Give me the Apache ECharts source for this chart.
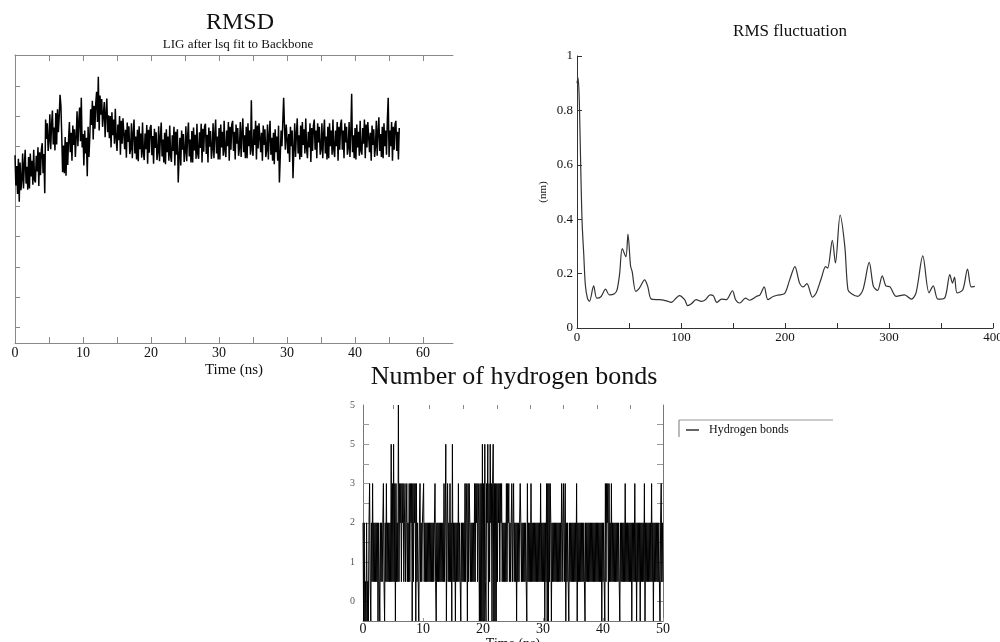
<!DOCTYPE html>
<html>
<head>
<meta charset="utf-8">
<script src="https://cdn.jsdelivr.net/npm/echarts@6/dist/echarts.min.js"></script>
<style>
  html, body { margin: 0; padding: 0; background: #fff; }
  #main { width: 1000px; height: 642px; }
</style>
</head>
<body>
<div id="main"></div>
<script>
var chartDom = document.getElementById('main');
var myChart = echarts.init(chartDom);
var option;

// RMSD of the ligand (nm), one value every 0.125 ns, 8 per row = 1 ns
const rmsdStep = 0.125;
const rmsdValues = [
  .335, .285, .317, .271, .329, .258, .323, .277,
  .295, .338, .280, .320, .344, .288, .316, .278,
  .332, .280, .338, .300, .326, .286, .344, .294,
  .290, .334, .308, .348, .284, .340, .302, .344,
  .355, .305, .337, .272, .394, .362, .388, .342,
  .360, .403, .345, .385, .409, .353, .381, .343,
  .405, .353, .411, .373, .399, .435, .417, .367,
  .307, .351, .305, .365, .301, .357, .319, .361,
  .390, .340, .372, .326, .384, .352, .378, .332,
  .365, .408, .350, .390, .414, .358, .430, .348,
  .370, .318, .376, .338, .364, .300, .382, .332,
  .367, .411, .385, .425, .361, .417, .379, .421,
  .440, .390, .465, .376, .434, .402, .428, .382,
  .380, .423, .365, .405, .429, .373, .401, .363,
  .400, .348, .406, .368, .394, .354, .412, .362,
  .342, .386, .360, .400, .336, .392, .354, .396,
  .395, .345, .377, .331, .389, .357, .383, .337,
  .345, .388, .330, .370, .394, .338, .366, .328,
  .377, .325, .383, .345, .371, .331, .389, .339,
  .327, .371, .345, .385, .321, .377, .339, .381,
  .385, .335, .367, .321, .379, .347, .373, .327,
  .340, .383, .325, .365, .389, .333, .361, .323,
  .372, .320, .378, .340, .366, .326, .384, .334,
  .324, .368, .342, .382, .318, .374, .336, .378,
  .290, .332, .364, .318, .376, .344, .370, .324,
  .340, .383, .325, .365, .389, .333, .361, .323,
  .375, .323, .381, .343, .369, .329, .387, .337,
  .329, .373, .347, .387, .323, .379, .341, .383,
  .387, .337, .369, .323, .381, .349, .375, .329,
  .345, .388, .330, .370, .394, .338, .366, .328,
  .380, .328, .386, .348, .374, .334, .392, .342,
  .332, .376, .350, .390, .326, .382, .344, .386,
  .392, .342, .374, .328, .386, .354, .380, .334,
  .347, .390, .332, .372, .396, .340, .368, .330,
  .382, .330, .388, .350, .376, .336, .426, .344,
  .334, .378, .352, .392, .328, .384, .346, .388,
  .390, .340, .372, .326, .384, .352, .378, .332,
  .343, .386, .328, .368, .392, .336, .364, .326,
  .372, .320, .378, .340, .366, .326, .384, .290,
  .332, .376, .350, .390, .430, .382, .344, .386,
  .388, .338, .370, .324, .382, .350, .376, .297,
  .345, .388, .332, .370, .396, .338, .368, .328,
  .384, .332, .390, .352, .378, .338, .396, .346,
  .330, .374, .348, .388, .324, .380, .342, .384,
  .394, .344, .376, .330, .388, .356, .382, .336,
  .345, .388, .330, .370, .394, .338, .366, .328,
  .382, .330, .388, .350, .376, .336, .394, .344,
  .332, .376, .350, .390, .326, .382, .344, .386,
  .394, .344, .376, .330, .388, .356, .382, .336,
  .347, .390, .332, .372, .437, .340, .368, .330,
  .380, .328, .386, .348, .374, .334, .392, .342,
  .336, .380, .354, .394, .330, .386, .348, .390,
  .390, .340, .372, .326, .384, .352, .378, .332,
  .349, .392, .334, .374, .398, .342, .370, .332,
  .382, .330, .388, .350, .376, .336, .394, .430,
  .332, .376, .350, .390, .326, .382, .344, .386,
  .392, .342, .374, .328, .380
];
const rmsdXTicks = [0, 5, 10, 15, 20, 25, 30, 35, 40, 45, 50, 55, 60];
const rmsdXLabelAt = [0, 10, 20, 30, 40, 50, 60];
const rmsdXLabels = ['0', '10', '20', '30', '30', '40', '60'];
const rmsdYTicks = [0.05, 0.10, 0.15, 0.20, 0.25, 0.30, 0.35, 0.40, 0.45];

// RMS fluctuation per residue
const rmsfResidue = [
  0, 1, 2, 3, 4, 5, 6.5, 8, 10, 12,
  16, 19, 23, 27.5, 31, 36, 38.5, 41, 43.5, 47,
  49, 51.5, 53, 56.5, 60, 65, 68, 71.5, 79.5, 86,
  90.5, 98.5, 103.5, 106.5, 110, 114.5, 119.5, 123.5, 128, 131,
  134.5, 139, 143.5, 149.5, 152.5, 156.5, 162, 166, 172.5, 176,
  180, 183.5, 188.5, 193, 199.5, 204.5, 209.5, 214, 217.5, 221,
  226.5, 230, 235, 239, 241, 245.5, 248.5, 253, 257.5, 260.5,
  264, 270, 275, 281, 285, 289, 293.5, 297, 301, 307,
  315, 321.5, 326, 332.5, 338.5, 342.5, 347, 353.5, 358.5, 361,
  363, 365.5, 371, 375.5, 379, 382.5
];
const rmsfValue = [
  0.90, 0.92, 0.86, 0.70, 0.52, 0.38, 0.27, 0.16, 0.11, 0.098,
  0.155, 0.11, 0.115, 0.143, 0.122, 0.126, 0.14, 0.2, 0.292, 0.262,
  0.345, 0.228, 0.208, 0.135, 0.147, 0.177, 0.153, 0.106, 0.104, 0.1,
  0.094, 0.119, 0.104, 0.082, 0.089, 0.104, 0.098, 0.104, 0.122, 0.119,
  0.094, 0.106, 0.104, 0.137, 0.104, 0.092, 0.11, 0.102, 0.116, 0.122,
  0.151, 0.104, 0.116, 0.121, 0.126, 0.177, 0.226, 0.165, 0.151, 0.163,
  0.113, 0.129, 0.184, 0.226, 0.22, 0.322, 0.239, 0.415, 0.3, 0.141,
  0.126, 0.116, 0.141, 0.241, 0.153, 0.138, 0.192, 0.155, 0.151, 0.116,
  0.122, 0.106, 0.129, 0.265, 0.129, 0.155, 0.106, 0.11, 0.196, 0.165,
  0.187, 0.129, 0.141, 0.217, 0.151, 0.153
];

// hydrogen bonds, one digit per 0.1 ns frame, one string per ns
const hbStep = 0.1;
const hbFrames = [
  '2020102010', '2310213121', '2121202102', '1212310213', '1212121413',
  '1413031215', '1323132312', '3123121313', '2303132303', '1210231212',
  '2312121212', '1212121212', '3102121212', '1212131240', '2312131204',
  '1212021213', '1210212121', '3132031321', '2121213132', '3132030304',
  '0304103240', '3142303403', '0303132313', '2312121213', '1323121231',
  '2312120212', '1232121212', '1210312121', '3121212121', '2121213121',
  '2120213030', '3132021212', '1212121212', '1321321302', '1210212121',
  '2121213021', '2121212121', '0212121212', '1212121212', '1212121202',
  '1210313230', '3121312121', '2121212102', '1212121312', '1212121202',
  '1213120212', '1202121213', '0212121212', '1312021212', '1212102312',
  '1'
];
// plotted height of each bond count, as drawn on the picture's y scale
const hbLevels = [-0.5, 0.5, 2, 3, 4, 5];
const hbYLabelAt = [0, 1, 2, 3, 4, 5];
const hbYLabels = ['0', '1', '2', '3', '5', '5'];
const hbYTicks = [0, 0.5, 1, 1.5, 2, 2.5, 3, 3.5, 4, 4.5];
const hbTopTicks = [5.1, 11.1, 16.7, 22.3, 27.9, 33.4, 39.0, 44.5];

const rmsdData = rmsdValues.map((v, i) => [i * rmsdStep, v]);
const rmsfData = rmsfResidue.map((r, i) => [r, rmsfValue[i]]);
const hbData = hbFrames.join('').split('').map((c, i) => [i * hbStep, hbLevels[+c]]);

const serif = 'Liberation Serif';

option = {
  animation: false,
  backgroundColor: '#fff',
  textStyle: { fontFamily: serif },
  title: [
    { text: 'RMSD', left: 240, top: 11, textAlign: 'center', padding: 0,
      textStyle: { fontSize: 24, fontWeight: 'normal', color: '#111', fontFamily: serif } },
    { text: 'LIG after lsq fit to Backbone', left: 238, top: 38, textAlign: 'center', padding: 0,
      textStyle: { fontSize: 13, fontWeight: 'normal', color: '#111', fontFamily: serif } },
    { text: 'RMS fluctuation', left: 790, top: 23, textAlign: 'center', padding: 0,
      textStyle: { fontSize: 17, fontWeight: 'normal', color: '#111', fontFamily: serif } },
    { text: 'Number of hydrogen bonds', left: 514, top: 364, textAlign: 'center', padding: 0,
      textStyle: { fontSize: 26, fontWeight: 'normal', color: '#111', fontFamily: serif } }
  ],
  legend: {
    data: ['Hydrogen bonds'],
    left: 686, top: 424, padding: 0,
    icon: 'rect', itemWidth: 13, itemHeight: 1.2, itemGap: 0,
    textStyle: { fontSize: 12, color: '#111', fontFamily: serif, padding: [0, 0, 0, 5] }
  },
  graphic: [
    { type: 'line', shape: { x1: 679, y1: 420, x2: 833, y2: 420 }, style: { stroke: '#999', lineWidth: 1 } },
    { type: 'line', shape: { x1: 679, y1: 420, x2: 679, y2: 437 }, style: { stroke: '#777', lineWidth: 1 } }
  ],
  grid: [
    { left: 15, top: 55, width: 438, height: 288, containLabel: false, outerBoundsMode: 'none' },
    { left: 577, top: 56, width: 416, height: 272, containLabel: false, outerBoundsMode: 'none' },
    { left: 363, top: 405, width: 300, height: 216, containLabel: false, outerBoundsMode: 'none' }
  ],
  xAxis: [
    { // RMSD bottom
      gridIndex: 0, type: 'value', min: 0, max: 64.4, position: 'bottom',
      axisLine: { onZero: false, lineStyle: { color: '#888', width: 1 } },
      axisTick: { inside: true, length: 6, customValues: rmsdXTicks, lineStyle: { color: '#888' } },
      axisLabel: { customValues: rmsdXLabelAt, margin: 3, fontSize: 14, color: '#111', fontFamily: serif,
        formatter: v => rmsdXLabels[Math.round(v / 10)] },
      splitLine: { show: false },
      name: 'Time (ns)', nameLocation: 'middle', nameGap: 20,
      nameTextStyle: { fontSize: 15, color: '#111', fontFamily: serif }
    },
    { // RMSD top border
      gridIndex: 0, type: 'value', min: 0, max: 64.4, position: 'top',
      axisLine: { onZero: false, lineStyle: { color: '#888', width: 1 } },
      axisTick: { inside: true, length: 6, customValues: rmsdXTicks, lineStyle: { color: '#888' } },
      axisLabel: { show: false },
      splitLine: { show: false }
    },
    { // RMSF
      gridIndex: 1, type: 'value', min: 0, max: 400, interval: 50, position: 'bottom',
      axisLine: { onZero: false, lineStyle: { color: '#333', width: 1 } },
      axisTick: { inside: true, length: 5, lineStyle: { color: '#333' } },
      axisLabel: { margin: 3, fontSize: 13, color: '#111', fontFamily: serif,
        formatter: v => (v % 100 === 0 ? String(v) : '') },
      splitLine: { show: false }
    },
    { // H-bond bottom
      gridIndex: 2, type: 'value', min: 0, max: 50, interval: 10, position: 'bottom',
      axisLine: { onZero: false, lineStyle: { color: '#777', width: 1 } },
      axisTick: { inside: true, length: 3, lineStyle: { color: '#999' } },
      axisLabel: { margin: 1, fontSize: 14, color: '#111', fontFamily: serif },
      splitLine: { show: false },
      name: 'Time (ns)', nameLocation: 'middle', nameGap: 14,
      nameTextStyle: { fontSize: 14, color: '#111', fontFamily: serif }
    },
    { // H-bond top ticks only
      gridIndex: 2, type: 'value', min: 0, max: 50, position: 'top',
      axisLine: { show: false, onZero: false },
      axisTick: { show: true, inside: true, length: 4, customValues: hbTopTicks, lineStyle: { color: '#888' } },
      axisLabel: { show: false },
      splitLine: { show: false }
    }
  ],
  yAxis: [
    { // RMSD
      gridIndex: 0, type: 'value', min: 0.024, max: 0.501,
      axisLine: { show: true, onZero: false, lineStyle: { color: '#888', width: 1 } },
      axisTick: { show: true, inside: true, length: 5, customValues: rmsdYTicks, lineStyle: { color: '#888' } },
      axisLabel: { show: false },
      splitLine: { show: false }
    },
    { // RMSF
      gridIndex: 1, type: 'value', min: 0, max: 1, interval: 0.2,
      axisLine: { show: true, onZero: false, lineStyle: { color: '#333', width: 1 } },
      axisTick: { show: true, inside: true, length: 5, lineStyle: { color: '#333' } },
      axisLabel: { margin: 4, fontSize: 13, color: '#111', fontFamily: serif },
      splitLine: { show: false },
      name: '(nm)', nameLocation: 'middle', nameGap: 28, nameRotate: 90,
      nameTextStyle: { fontSize: 11, color: '#222', fontFamily: serif }
    },
    { // H-bond left
      gridIndex: 2, type: 'value', min: -0.5, max: 5,
      axisLine: { show: true, onZero: false, lineStyle: { color: '#777', width: 1 } },
      axisTick: { show: true, inside: true, length: 6, customValues: hbYTicks, lineStyle: { color: '#999' } },
      axisLabel: { customValues: hbYLabelAt, margin: 8, fontSize: 10, color: '#555', fontFamily: serif,
        formatter: v => hbYLabels[Math.round(v)] },
      splitLine: { show: false }
    },
    { // H-bond right border
      gridIndex: 2, type: 'value', min: -0.5, max: 5, position: 'right',
      axisLine: { show: true, onZero: false, lineStyle: { color: '#777', width: 1 } },
      axisTick: { show: true, inside: true, length: 6, customValues: hbYTicks, lineStyle: { color: '#999' } },
      axisLabel: { show: false },
      splitLine: { show: false }
    }
  ],
  series: [
    {
      name: 'RMSD', type: 'line', xAxisIndex: 0, yAxisIndex: 0,
      data: rmsdData, symbol: 'none', sampling: false,
      lineStyle: { color: '#000', width: 1.5 }
    },
    {
      name: 'RMSF', type: 'line', xAxisIndex: 2, yAxisIndex: 1,
      data: rmsfData, symbol: 'none', smooth: 0.3,
      lineStyle: { color: '#333', width: 1.2 }
    },
    {
      name: 'Hydrogen bonds', type: 'line', xAxisIndex: 3, yAxisIndex: 2,
      data: hbData, symbol: 'none', color: '#000',
      itemStyle: { color: '#000' },
      lineStyle: { color: '#000', width: 1 }
    }
  ]
};

option && myChart.setOption(option);
</script>
</body>
</html>
